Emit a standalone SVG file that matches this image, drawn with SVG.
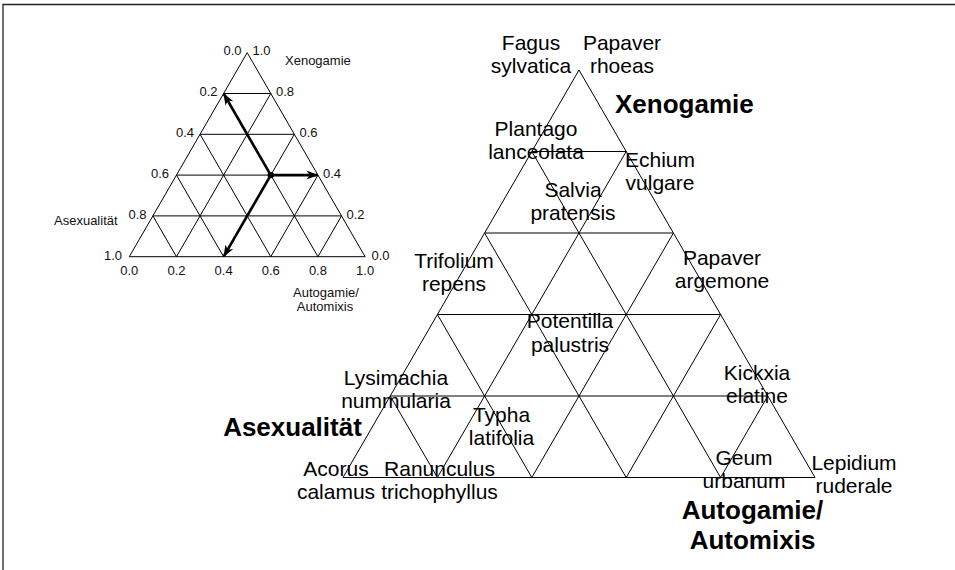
<svg xmlns="http://www.w3.org/2000/svg" width="955" height="570" viewBox="0 0 955 570">
  <style>
    .grid { fill: none; stroke: #000; stroke-width: 1; }
    .frame { fill: none; stroke: #222; stroke-width: 1.3; }
    .tick { font-family: "Liberation Sans", Arial, sans-serif; font-size: 13px; fill: #111; }
    .axis-s { font-family: "Liberation Sans", Arial, sans-serif; font-size: 13px; fill: #111; }
    .species { font-family: "Liberation Sans", Arial, sans-serif; font-size: 21px; fill: #000; text-anchor: middle; }
    .axis-b { font-family: "Liberation Sans", Arial, sans-serif; font-size: 26px; font-weight: bold; fill: #000; }
    .arrow { stroke: #000; stroke-width: 2.6; fill: none; marker-end: url(#head); }
  </style>
  <defs>
    <marker id="head" viewBox="0 0 12 10" refX="11" refY="5" markerWidth="12" markerHeight="10" markerUnits="userSpaceOnUse" orient="auto">
      <path d="M0,0.5 L12,5 L0,9.5 L3.5,5 z" fill="#000"/>
    </marker>
  </defs>

  <rect width="955" height="570" fill="#fff"/>
  <!-- outer frame: top and left edges -->
  <path class="frame" d="M3,570 V4.5 H955"/>

  <!-- small key triangle -->
  <g id="key-triangle">
    <path class="grid" d="M247.2,52.7 L129.3,256.7 L365.1,256.7 Z"/>
    <path class="grid" d="M223.62,93.5 H270.78 M200.04,134.3 H294.36 M176.46,175.1 H317.94 M152.88,215.9 H341.52"/>
    <path class="grid" d="M176.46,256.7 L270.78,93.5 M223.62,256.7 L294.36,134.3 M270.78,256.7 L317.94,175.1 M317.94,256.7 L341.52,215.9"/>
    <path class="grid" d="M176.46,256.7 L152.88,215.9 M223.62,256.7 L176.46,175.1 M270.78,256.7 L200.04,134.3 M317.94,256.7 L223.62,93.5"/>
  </g>

  <g id="key-ticks" class="tick">
    <text x="241.5" y="55" text-anchor="end">0.0</text>
    <text x="252.5" y="55">1.0</text>
    <text x="217.5" y="96" text-anchor="end">0.2</text>
    <text x="276" y="96">0.8</text>
    <text x="194" y="137" text-anchor="end">0.4</text>
    <text x="299.5" y="137">0.6</text>
    <text x="169" y="178" text-anchor="end">0.6</text>
    <text x="323" y="178">0.4</text>
    <text x="146.5" y="219" text-anchor="end">0.8</text>
    <text x="346.5" y="219">0.2</text>
    <text x="122" y="260" text-anchor="end">1.0</text>
    <text x="371.5" y="260">0.0</text>
    <g text-anchor="middle">
      <text x="129.3" y="275">0.0</text>
      <text x="176.46" y="275">0.2</text>
      <text x="223.62" y="275">0.4</text>
      <text x="270.78" y="275">0.6</text>
      <text x="317.94" y="275">0.8</text>
      <text x="365.1" y="275">1.0</text>
    </g>
  </g>

  <g id="key-axes" class="axis-s">
    <text x="285" y="65">Xenogamie</text>
    <text x="54" y="225">Asexualität</text>
    <text x="326" y="297" text-anchor="middle">Autogamie/</text>
    <text x="325" y="311" text-anchor="middle">Automixis</text>
  </g>

  <!-- reading example: one point and its three coordinates -->
  <g id="key-arrows">
    <line class="arrow" x1="270.78" y1="175.1" x2="317.4" y2="175.1"/>
    <line class="arrow" x1="270.78" y1="175.1" x2="223.9" y2="94"/>
    <line class="arrow" x1="270.78" y1="175.1" x2="223.9" y2="256.2"/>
    <circle cx="270.78" cy="175.1" r="3.2" fill="#000"/>
  </g>

  <!-- main triangle -->
  <g id="main-triangle">
    <path class="grid" d="M579,70 L343,477.5 L815,477.5 Z"/>
    <path class="grid" d="M531.8,151.5 H626.2 M484.6,233 H673.4 M437.4,314.5 H720.6 M390.2,396 H767.8"/>
    <path class="grid" d="M437.4,477.5 L626.2,151.5 M531.8,477.5 L673.4,233 M626.2,477.5 L720.6,314.5 M720.6,477.5 L767.8,396"/>
    <path class="grid" d="M437.4,477.5 L390.2,396 M531.8,477.5 L437.4,314.5 M626.2,477.5 L484.6,233 M720.6,477.5 L531.8,151.5"/>
  </g>

  <g id="main-axes" class="axis-b">
    <text x="615" y="113">Xenogamie</text>
    <text x="292.5" y="436" text-anchor="middle">Asexualität</text>
    <text x="752.5" y="518.5" text-anchor="middle">Autogamie/</text>
    <text x="752.5" y="548.5" text-anchor="middle">Automixis</text>
  </g>

  <g id="species" class="species">
    <g id="fagus"><text x="531" y="50">Fagus</text><text x="531" y="73">sylvatica</text></g>
    <g id="papaver-rhoeas"><text x="622" y="50">Papaver</text><text x="622" y="73">rhoeas</text></g>
    <g id="plantago"><text x="536" y="136">Plantago</text><text x="536" y="159">lanceolata</text></g>
    <g id="echium"><text x="660" y="166.5">Echium</text><text x="660" y="190">vulgare</text></g>
    <g id="salvia"><text x="573" y="197">Salvia</text><text x="573" y="219.5">pratensis</text></g>
    <g id="trifolium"><text x="454" y="268">Trifolium</text><text x="454" y="291">repens</text></g>
    <g id="papaver-argemone"><text x="722" y="265">Papaver</text><text x="722" y="288">argemone</text></g>
    <g id="potentilla"><text x="570" y="328">Potentilla</text><text x="570" y="351.5">palustris</text></g>
    <g id="lysimachia"><text x="396" y="385">Lysimachia</text><text x="396" y="408">nummularia</text></g>
    <g id="kickxia"><text x="757" y="380">Kickxia</text><text x="757" y="403">elatine</text></g>
    <g id="typha"><text x="501.5" y="422">Typha</text><text x="501.5" y="445">latifolia</text></g>
    <g id="acorus"><text x="336" y="476">Acorus</text><text x="336" y="499">calamus</text></g>
    <g id="ranunculus"><text x="439.5" y="476">Ranunculus</text><text x="439.5" y="499">trichophyllus</text></g>
    <g id="geum"><text x="744" y="465">Geum</text><text x="744" y="488">urbanum</text></g>
    <g id="lepidium"><text x="854" y="469.5">Lepidium</text><text x="854" y="492.5">ruderale</text></g>
  </g>
</svg>
